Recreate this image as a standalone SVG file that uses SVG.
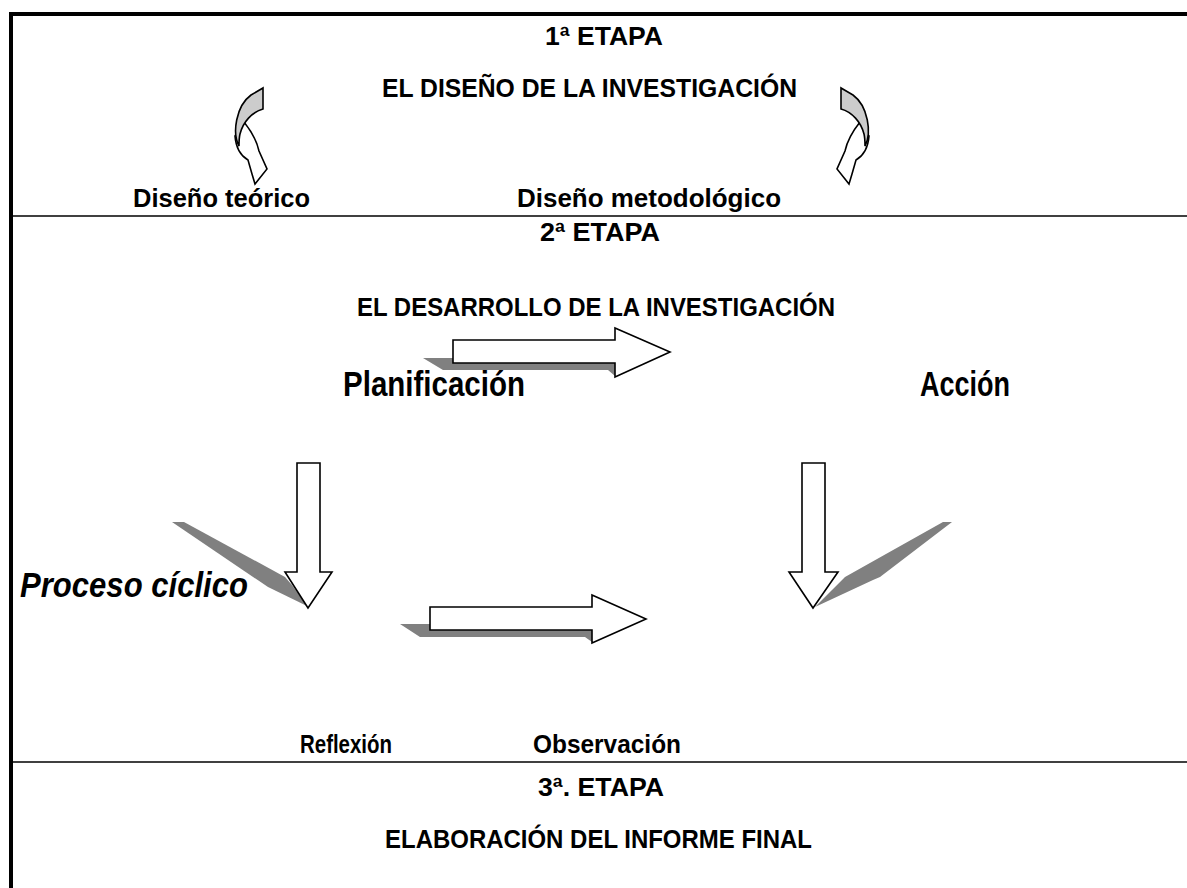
<svg xmlns="http://www.w3.org/2000/svg" width="1187" height="888" viewBox="0 0 1187 888">
<style>
.t{font-family:"Liberation Sans",Arial,sans-serif;font-weight:bold;fill:#000}
.s26{font-size:26px}
.s35{font-size:35px}
.it{font-style:italic}
.line{stroke:#000;fill:none}
.ar{fill:#fff;stroke:#000;stroke-width:1.6;stroke-linejoin:miter}
.gr{fill:#cccccc;stroke:#000;stroke-width:1.6;stroke-linejoin:miter}
.sh{fill:#808080;stroke:none}
</style>
<defs>
<g id="curve">
<path class="ar" d="M244,122 C252,132 257,142 259,151 L267,169 L255,184 L252,174 L248,160 C241,156 236,149 235,136 Z"/>
<path class="gr" d="M251,95 L263,88 L263,109 C252,112 243,122 240,134 C239,138 239,142 239,146 C232,133 236,106 251,95 Z"/>
</g>
</defs>
<rect width="1187" height="888" fill="#fff"/>
<g id="frame">
<line class="line" x1="9" y1="14" x2="1187" y2="14" stroke-width="4"/>
<line class="line" x1="11" y1="12" x2="11" y2="888" stroke-width="4"/>
<line class="line" x1="11" y1="216" x2="1187" y2="216" stroke-width="1.6"/>
<line class="line" x1="11" y1="762" x2="1187" y2="762" stroke-width="1.6"/>
</g>
<g id="etapa1">
<text class="t s26" x="545" y="45" textLength="118" lengthAdjust="spacingAndGlyphs">1ª ETAPA</text>
<text class="t s26" x="382" y="97" textLength="415" lengthAdjust="spacingAndGlyphs">EL DISEÑO DE LA INVESTIGACIÓN</text>
</g>
<g id="curved-left">
<use href="#curve"/>
</g>
<g id="curved-right" transform="translate(1104,0) scale(-1,1)">
<use href="#curve"/>
</g>
<g id="disenos">
<text class="t s26" x="133" y="207" textLength="177" lengthAdjust="spacingAndGlyphs">Diseño teórico</text>
<text class="t s26" x="517" y="207" textLength="264" lengthAdjust="spacingAndGlyphs">Diseño metodológico</text>
</g>
<g id="etapa2">
<text class="t s26" x="540" y="241" textLength="120" lengthAdjust="spacingAndGlyphs">2ª ETAPA</text>
<text class="t s26" x="357" y="316" textLength="478" lengthAdjust="spacingAndGlyphs">EL DESARROLLO DE LA INVESTIGACIÓN</text>
</g>
<g id="connectors">
<polygon class="sh" points="423,358 453,358 453,363 615,363 615,376 608,370 443,370"/>
<polygon class="ar" points="453,340 615,340 615,328 670,352 615,377 615,363 453,363"/>
<polygon class="sh" points="172,522 184,522 285,577 292,585 307,606 268,587"/>
<polygon class="ar" points="297,463 320,463 320,572 332,572 308,608 285,572 297,572"/>
<polygon class="sh" points="943,522 952,522 880,577 873,580 815,607 832,590 845,577"/>
<polygon class="ar" points="802,463 825,463 825,572 838,572 813,608 789,572 802,572"/>
<polygon class="sh" points="400,624 430,624 430,630 592,630 592,642 585,637 420,637"/>
<polygon class="ar" points="430,607 592,607 592,595 646,619 592,643 592,630 430,630"/>
</g>
<g id="fases">
<text class="t s35" x="343" y="396" textLength="182" lengthAdjust="spacingAndGlyphs">Planificación</text>
<text class="t s35" x="920" y="396" textLength="90" lengthAdjust="spacingAndGlyphs">Acción</text>
<text class="t s35 it" x="20" y="597" textLength="228" lengthAdjust="spacingAndGlyphs">Proceso cíclico</text>
<text class="t s26" x="300" y="753" textLength="92" lengthAdjust="spacingAndGlyphs">Reflexión</text>
<text class="t s26" x="533" y="753" textLength="148" lengthAdjust="spacingAndGlyphs">Observación</text>
</g>
<g id="etapa3">
<text class="t s26" x="538" y="796" textLength="126" lengthAdjust="spacingAndGlyphs">3ª. ETAPA</text>
<text class="t s26" x="385" y="848" textLength="427" lengthAdjust="spacingAndGlyphs">ELABORACIÓN DEL INFORME FINAL</text>
</g>
</svg>
